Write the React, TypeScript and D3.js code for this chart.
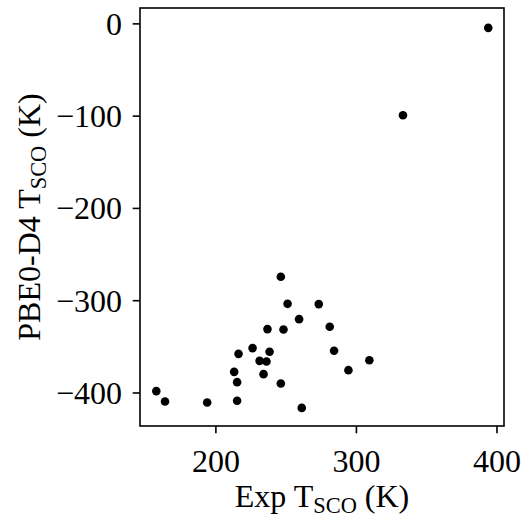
import React from "react";
import * as d3 from "d3";

const expT = [246.2, 251, 273.2, 259.2, 236.7, 248.1, 281, 226.1, 238.2, 216.1, 284.1, 231.1, 236, 309.2, 213, 294.3, 233.9, 215.1, 246.2, 157.6, 163.8, 193.8, 215.1, 261.1, 393.8, 333.1];
const pbeT = [-274, -303.4, -303.7, -320, -330.8, -331.2, -328.3, -351.4, -355.4, -357.6, -354.3, -365.2, -365.9, -364.5, -377.1, -375.3, -379.6, -388.3, -389.7, -398, -409.2, -410.3, -408.5, -416.2, -4.3, -99];
const xTicks = [200, 300, 400];
const yTicks = [0, -100, -200, -300, -400];

const W = 525, H = 525;
const L = 140, R = 504, T = 8, B = 426;
const FONT = "'Liberation Serif', 'Times New Roman', serif";
const FS = 32;

export default function App() {
  const x = d3.scaleLinear().domain([146.0, 405.0]).range([L, R]);
  const y = d3.scaleLinear().domain([-435.8, 17.2]).range([B, T]);
  const fmt = (v: number) => (v < 0 ? "\u2212" + Math.abs(v) : String(v));
  return (
    <svg width={W} height={H} style={{ position: "absolute", left: 0, top: 0, background: "#fff" }}>
      <rect x={0} y={0} width={W} height={H} fill="#fff" />
      {expT.map((v, i) => (
        <circle key={i} cx={x(v)} cy={y(pbeT[i])} r={4.3} fill="#000" />
      ))}
      <rect x={L} y={T} width={R - L} height={B - T} fill="none" stroke="#000" strokeWidth={1.6} />
      {xTicks.map((t) => (
        <g key={t}>
          <line x1={x(t)} x2={x(t)} y1={B} y2={B + 7.3} stroke="#000" strokeWidth={1.6} />
          <text x={x(t)} y={472} textAnchor="middle" fontFamily={FONT} fontSize={FS} fill="#000">{fmt(t)}</text>
        </g>
      ))}
      {yTicks.map((t) => (
        <g key={t}>
          <line x1={L - 7.3} x2={L} y1={y(t)} y2={y(t)} stroke="#000" strokeWidth={1.6} />
          <text x={L - 18} y={y(t) + 11} textAnchor="end" fontFamily={FONT} fontSize={FS} fill="#000">{fmt(t)}</text>
        </g>
      ))}
      <text x={(L + R) / 2} y={507} textAnchor="middle" fontFamily={FONT} fontSize={FS} fill="#000">
        Exp T<tspan fontSize={FS * 0.7} dy={6}>SCO</tspan><tspan dy={-6}> (K)</tspan>
      </text>
      <text transform={`translate(40,${(T + B) / 2}) rotate(-90)`} textAnchor="middle" fontFamily={FONT} fontSize={FS} fill="#000">
        PBE0-D4 T<tspan fontSize={FS * 0.7} dy={6}>SCO</tspan><tspan dy={-6}> (K)</tspan>
      </text>
    </svg>
  );
}
